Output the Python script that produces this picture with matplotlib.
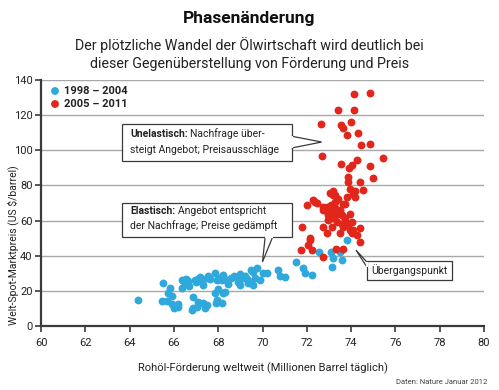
import matplotlib
matplotlib.use("Agg")
import matplotlib.pyplot as plt
from matplotlib.patches import Polygon

plt.rcParams['font.family'] = ['Roboto', 'DejaVu Sans']

title = "Phasenänderung"
subtitle = "Der plötzliche Wandel der Ölwirtschaft wird deutlich bei\ndieser Gegenüberstellung von Förderung und Preis"
xlabel = "Rohöl-Förderung weltweit (Millionen Barrel täglich)"
ylabel = "Welt-Spot-Marktpreis (US $/barrel)"
source = "Daten: Nature Januar 2012"
legend_labels = ["1998 – 2004", "2005 – 2011"]
xticks = [60, 62, 64, 66, 68, 70, 72, 74, 76, 78, 80]
yticks = [0, 20, 40, 60, 80, 100, 120, 140]

blue_x = [64.4, 65.5, 65.45, 65.67, 65.82, 65.75, 65.9, 65.9, 66.0, 66.2, 66.35, 66.35, 66.5, 66.65,
          66.8, 66.88, 66.95, 67.03, 67.18, 67.25, 67.33, 67.4, 67.48, 67.55, 67.86, 67.86, 67.93,
          67.93, 68.0, 68.15, 68.15, 68.23, 68.23, 68.38, 68.45, 68.6, 68.83, 68.9, 68.98, 69.1,
          69.2, 69.36, 69.44, 69.5, 69.58, 69.66, 69.73, 69.89, 70.04, 70.19, 69.56, 70.71, 70.79,
          71.0, 71.51, 71.84, 71.92, 72.22, 72.57, 73.1, 73.17, 73.12, 73.57, 73.5, 73.8,
          66.55, 66.7, 67.1, 67.3, 67.65, 68.05, 68.7, 69.0, 69.3, 67.0, 66.2, 66.85, 67.1, 67.5,
          67.9, 68.3]
blue_y = [14.8, 24.2, 14.4, 14.4, 21.4, 19.0, 17.0, 12.5, 10.5, 11.0, 26.1, 21.4, 24.3, 25.5,
          9.1, 16.7, 26.1, 11.0, 27.8, 25.2, 12.9, 10.0, 27.4, 28.5, 29.9, 18.6, 14.8,
          26.1, 21.0, 12.9, 26.1, 29.0, 18.6, 26.1, 24.0, 27.1, 27.1, 25.2, 23.3, 27.5,
          28.5, 24.3, 25.0, 31.8, 30.9, 27.1, 32.8, 26.1, 29.9, 29.9, 23.3, 31.8, 28.4,
          27.7, 36.2, 32.8, 29.9, 29.0, 41.9, 42.2, 38.5, 33.7, 37.5, 41.9, 48.9,
          27.0, 23.0, 26.5, 23.5, 26.8, 27.5, 28.5, 29.5, 26.5, 25.0, 12.5, 10.0, 13.5, 12.0,
          13.0, 19.5]

red_x = [74.13, 74.85, 73.39, 74.14, 72.63, 73.53, 73.65, 73.98, 73.83, 74.33, 74.43, 74.85,
         72.67, 73.53, 74.03, 73.9, 74.25, 74.85, 75.42, 73.88, 74.97, 74.4, 73.88, 74.55,
         73.05, 73.2, 73.27, 73.95, 74.1, 74.17, 73.8, 72.0, 72.3, 72.45, 72.82, 72.9, 73.05,
         73.27, 73.65, 73.12, 73.35, 73.57, 73.72, 73.95, 74.03, 73.65, 73.95, 74.25, 74.4,
         74.4, 73.12, 72.75, 71.77, 72.14, 71.72, 72.22, 73.3, 73.65, 74.1, 72.07, 72.72, 72.9,
         72.75, 72.97, 73.27, 73.5, 73.72, 74.02, 74.17, 73.2, 72.75, 73.2, 73.72, 72.37,
         73.4, 73.1, 73.5, 73.3, 72.95, 73.6, 73.85, 72.14]
red_y = [132.2, 132.6, 122.7, 122.7, 114.8, 114.6, 112.7, 116.3, 108.9, 110.0, 103.2, 103.4,
         96.6, 92.0, 91.5, 90.2, 94.7, 90.9, 95.6, 84.8, 84.5, 82.0, 82.0, 77.3,
         75.7, 76.9, 74.4, 77.7, 75.4, 76.9, 73.5, 68.8, 71.6, 70.1, 65.9, 67.8, 64.9,
         70.6, 69.7, 61.2, 59.3, 63.1, 61.2, 63.6, 59.3, 56.4, 54.5, 51.7, 55.5,
         47.9, 56.4, 56.4, 56.4, 48.9, 43.2, 43.2, 43.8, 44.1, 54.5, 46.0, 39.0, 52.7,
         65.9, 63.0, 66.9, 52.7, 60.2, 52.7, 73.5, 74.8, 67.8, 67.4, 69.7, 70.6,
         72.0, 69.0, 66.0, 63.0, 60.5, 58.0, 57.5, 49.8]

BLUE = "#2fa8dc"
RED = "#e2261c"
DARK = "#3a3a3a"
GRID = "#a8a8a8"
TXT = "#222222"

W, H = 499, 390
fig = plt.figure(figsize=(W / 100, H / 100), dpi=100)
ax = fig.add_axes([41 / W, 1 - 326 / H, (484 - 41) / W, (326 - 80) / H])

ax.set_xlim(60, 80)
ax.set_ylim(0, 140)
ax.set_xticks(xticks)
ax.set_yticks(yticks)
ax.tick_params(axis='both', labelsize=8, color=DARK, labelcolor=TXT, length=4, width=1.2)
ax.tick_params(axis='x', pad=5)
ax.tick_params(axis='y', pad=2)
for y in yticks[1:]:
    ax.axhline(y, color=GRID, lw=1.0, zorder=0)
for s in ['top', 'right']:
    ax.spines[s].set_visible(False)
for s in ['left', 'bottom']:
    ax.spines[s].set_color(DARK)
    ax.spines[s].set_linewidth(1.6)
ax.set_xlabel(xlabel, fontsize=8, color=TXT, labelpad=10)
ax.set_ylabel(ylabel, fontsize=7.5, color=TXT)
ax.yaxis.set_label_coords(-0.05, 0.33)

ax.scatter(blue_x, blue_y, s=32, color=BLUE, linewidths=0, zorder=3)
ax.scatter(red_x, red_y, s=32, color=RED, linewidths=0, zorder=4)

def callout(box, wedge, z=5):
    (x0, y0, x1, y1) = box
    rect = Polygon([(x0, y0), (x1, y0), (x1, y1), (x0, y1)], closed=True,
                   facecolor="white", edgecolor=DARK, lw=0.9, zorder=z)
    ax.add_patch(rect)
    w = Polygon(wedge, closed=True, facecolor="white", edgecolor=DARK, lw=0.9, zorder=z)
    ax.add_patch(w)
    ax.plot([wedge[0][0], wedge[2][0]], [wedge[0][1], wedge[2][1]], color="white", lw=1.6,
            zorder=z + 0.5, solid_capstyle='butt')

callout((63.64, 93.9, 71.32, 115.2), [(71.32, 108.0), (72.67, 104.7), (71.32, 101.3)])
callout((63.64, 50.7, 71.32, 69.9), [(70.12, 50.7), (70.0, 36.5), (70.46, 50.7)])
callout((74.70, 26.1, 78.57, 36.9), [(74.70, 36.6), (74.22, 43.2), (74.70, 33.8)])

fig.canvas.draw()
r = fig.canvas.get_renderer()

ANN = 7.5

def mixed(xpx, ypx, bold, regular, size=ANN):
    t = fig.text(xpx / W, 1 - ypx / H, bold, fontsize=size, fontweight='bold', color=TXT,
                 va='center', ha='left', zorder=10)
    bb = t.get_window_extent(renderer=r)
    fig.text(bb.x1 / W + 2.5 / W, 1 - ypx / H, regular, fontsize=size, color=TXT,
             va='center', ha='left', zorder=10)

mixed(130, 134, "Unelastisch:", "Nachfrage über-")
fig.text(130 / W, 1 - 150 / H, "steigt Angebot; Preisausschläge", fontsize=ANN, color=TXT, va='center')
mixed(130, 211, "Elastisch:", "Angebot entspricht")
fig.text(130 / W, 1 - 226 / H, "der Nachfrage; Preise gedämpft", fontsize=ANN, color=TXT, va='center')
fig.text(409.5 / W, 1 - 270 / H, "Übergangspunkt", fontsize=ANN, color=TXT, va='center', ha='center')

lax = fig.add_axes([0, 0, 1, 1], facecolor='none')
lax.set_xlim(0, W)
lax.set_ylim(H, 0)
lax.axis('off')
lax.scatter([55, 55], [91, 104], s=32, color=[BLUE, RED], linewidths=0)
lax.text(64, 91, legend_labels[0], fontsize=8, fontweight='bold', color=TXT, va='center')
lax.text(64, 104, legend_labels[1], fontsize=8, fontweight='bold', color=TXT, va='center')

fig.text(0.5, 1 - 18 / H, title, fontsize=12.5, fontweight='bold', ha='center', va='center', color="#111111")
fig.text(0.5, 1 - 54 / H, subtitle, fontsize=10.3, ha='center', va='center', color=TXT,
         linespacing=1.35)
fig.text(487 / W, 1 - 382 / H, source, fontsize=5.5, ha='right', va='center', color="#444444")

fig.savefig("out.png", dpi=100)
